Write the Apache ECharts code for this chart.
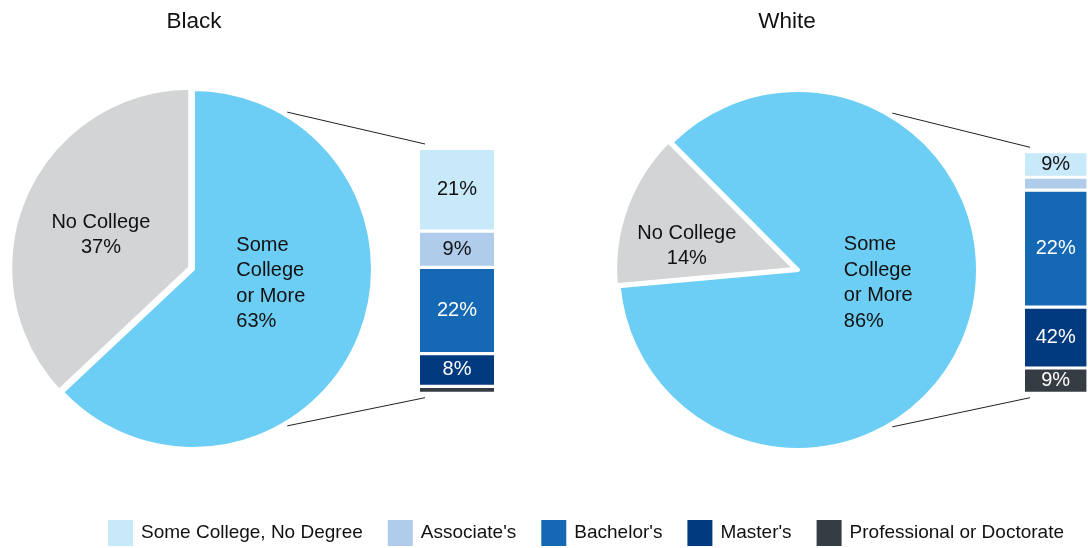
<!DOCTYPE html>
<html><head><meta charset="utf-8">
<script src="https://cdn.jsdelivr.net/npm/echarts@6/dist/echarts.min.js"></script>
<style>html,body{margin:0;padding:0;background:#fff}#c{width:1088px;height:548px}</style>
</head><body><div id="c"></div>
<script>
// ---- data ----
const groups = ['Black', 'White'];
const pieCategories = ['Some College or More', 'No College'];
const pieLabelNames = ['Some\nCollege\nor More', 'No College'];
const blackPie = [63, 37];
const whitePie = [86, 14];
const barCategories = ['Some College, No Degree', "Associate's", "Bachelor's", "Master's", 'Professional or Doctorate'];
const blackBar = [21.3, 9.3, 22.2, 8.4, 1.8];
const whiteBar = [9.1, 4.6, 41.6, 21.7, 9.0];
const blackBarLabels = ['21%', '9%', '22%', '8%', ''];
const whiteBarLabels = ['9%', '', '22%', '42%', '9%'];

// ---- style ----
const FONT = '"Liberation Sans", Arial, Helvetica, sans-serif';
const pieColors = ['#6CCEF5', '#D3D4D6'];
const barColors = ['#C8E9F9', '#AFCDEB', '#1468B4', '#023A80', '#363C43'];
const barLabelColors = ['#111', '#111', '#fff', '#fff', '#fff'];
const B = 1.6; // inner white border of bar segments

const layouts = [
  {cx: 193, cy: 269, r: 180, start: 90, titleX: 194, barLeft: 420, barTop: 150, barBottom: 391.7, barW: 74,
   labOff: [[-42, -22.5, 'left'], [-4, 4, 'center']]},
  {cx: 798, cy: 270, r: 180, start: 134.8, titleX: 787, barLeft: 1025, barTop: 153.3, barBottom: 391.7, barW: 74,
   labOff: [[-41.6, -19, 'left'], [-21, 9, 'center']]}
];
const pies = [blackPie, whitePie];
const bars = [blackBar, whiteBar];
const barLabels = [blackBarLabels, whiteBarLabels];

const chart = echarts.init(document.getElementById('c'), null, {renderer: 'canvas'});

const series = [];
const grids = [], xAxes = [], yAxes = [], titles = [], graphics = [];

layouts.forEach((L, gi) => {
  titles.push({
    text: groups[gi], left: L.titleX, top: 10, textAlign: 'center', padding: 0,
    textStyle: {fontSize: 22.5, fontWeight: 'normal', color: '#111', fontFamily: FONT}
  });
  series.push({
    type: 'pie', center: [L.cx, L.cy], radius: L.r, startAngle: L.start, clockwise: true,
    selectedMode: 'multiple', selectedOffset: 3, animation: false,
    emphasis: {disabled: true},
    itemStyle: {borderColor: '#fff', borderWidth: 4},
    label: {
      show: true, position: 'inside', fontSize: 20, lineHeight: 25.5, color: '#111', fontFamily: FONT,
      formatter: p => pieLabelNames[p.dataIndex] + '\n' + p.value + '%'
    },
    labelLine: {show: false},
    labelLayout: p => ({dx: L.labOff[p.dataIndex][0], dy: L.labOff[p.dataIndex][1], align: L.labOff[p.dataIndex][2]}),
    data: pies[gi].map((v, i) => ({value: v, name: pieCategories[i], selected: i === 1, itemStyle: {color: pieColors[i]}}))
  });

  const total = bars[gi].reduce((a, b) => a + b, 0);
  grids.push({left: L.barLeft - B, top: L.barTop - B, width: L.barW + 2 * B,
              height: L.barBottom - L.barTop + 2 * B, containLabel: false});
  xAxes.push({type: 'category', gridIndex: gi, data: [groups[gi]], show: false});
  yAxes.push({type: 'value', gridIndex: gi, min: 0, max: total, inverse: true, show: false});
  bars[gi].forEach((v, k) => {
    series.push({
      type: 'bar', name: barCategories[k], xAxisIndex: gi, yAxisIndex: gi, stack: 'stack' + gi,
      barWidth: '100%', animation: false, emphasis: {disabled: true},
      itemStyle: {color: barColors[k], borderColor: '#fff', borderWidth: B},
      label: {
        show: barLabels[gi][k] !== '', position: 'inside', formatter: () => barLabels[gi][k],
        fontSize: 20, color: barLabelColors[k], fontFamily: FONT
      },
      data: [v]
    });
  });

  // connector lines from the pie edge to the stacked bar
  const rr = L.r + 3;
  const rad = d => d * Math.PI / 180;
  const ends = [[31, L.barTop - 6], [149, L.barBottom + 6]];
  ends.forEach(([a, ey]) => {
    graphics.push({
      type: 'line', silent: true,
      shape: {x1: L.cx + rr * Math.sin(rad(a)), y1: L.cy - rr * Math.cos(rad(a)), x2: L.barLeft + 5, y2: ey},
      style: {stroke: '#222', lineWidth: 1}
    });
  });
});

chart.setOption({
  backgroundColor: '#fff',
  animation: false,
  title: titles,
  grid: grids,
  xAxis: xAxes,
  yAxis: yAxes,
  legend: {
    left: 108, top: 520, padding: 0, itemWidth: 25, itemHeight: 26, itemGap: 25, icon: 'rect',
    selectedMode: false, data: barCategories,
    itemStyle: {borderWidth: 0},
    textStyle: {fontSize: 19, color: '#111', fontFamily: FONT, padding: [0, 0, 0, 3]}
  },
  graphic: graphics,
  series: series
});
</script>
</body></html>
